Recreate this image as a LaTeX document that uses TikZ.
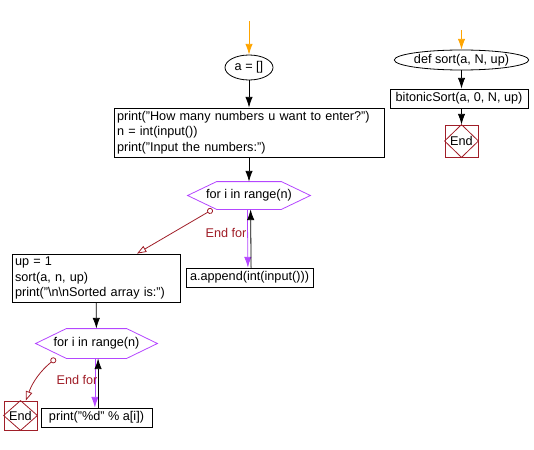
\documentclass[tikz,border=0pt]{standalone}
\usepackage{fontspec}
\setmainfont{Liberation Sans}
\usetikzlibrary{arrows.meta,shapes.geometric}

\definecolor{startc}{RGB}{255,165,0}
\definecolor{loopc}{RGB}{180,70,255}
\definecolor{endc}{RGB}{160,30,40}

% hexagon round a loop node: name, slant
\newcommand{\hexloop}[2]{%
  \draw [loopc] (#1.west) -- ([xshift=#2]#1.north west) -- ([xshift=-#2]#1.north east)
    -- (#1.east) -- ([xshift=-#2]#1.south east) -- ([xshift=#2]#1.south west) -- cycle;}
% diamond inside a stop box
\newcommand{\stopdiamond}[1]{%
  \draw [endc] (#1.north) -- (#1.east) -- (#1.south) -- (#1.west) -- cycle;}

\begin{document}
\begin{tikzpicture}[x=0.75pt,y=-0.75pt,line width=0.6pt,
    font=\fontsize{9.5pt}{11.6pt}\selectfont,
    every node/.style={inner sep=0pt},
    arr/.style={-{Latex[length=8pt,width=5.5pt]}},
    startarr/.style={arr,startc},
    proc/.style={draw,rectangle,minimum height=14.25pt},
    code/.style={draw,rectangle,align=left,inner xsep=2.25pt},
    term/.style={draw,ellipse},
    stopbox/.style={draw=endc,rectangle,minimum width=24.75pt},
    exitline/.style={endc,{Circle[open,length=4.5pt]}-{Triangle[open,length=7pt,width=5pt]}}]
  \useasboundingbox (0,0) rectangle (534,449);

  % main flow
  \coordinate (top1) at (249,21);
  \node [term,minimum width=36pt,minimum height=18.75pt] (init) at (249,67.5) {a = []};
  \node [code,minimum height=36.75pt,text width=198pt] (ask) at (249,132.5)
    {print("How many numbers u want to enter?")\\ n = int(input())\\ print("Input the numbers:")};
  \node [minimum width=91.5pt,minimum height=20.25pt] (loopA) at (249,195.5) {for i in range(n)};
  \hexloop{loopA}{21.75pt}
  \node [proc,minimum width=95.25pt] (append) at (249.5,277.5) {a.append(int(input()))};
  \node [code,minimum height=36pt,text width=121.5pt] (setup) at (96,278)
    {up = 1\\ sort(a, n, up)\\ print("\textbackslash n\textbackslash nSorted array is:")};
  \node [minimum width=90.75pt,minimum height=21.75pt] (loopB) at (96.5,343.5) {for i in range(n)};
  \hexloop{loopB}{23pt}
  \node [proc,minimum width=83.25pt] (show) at (96.5,417.5) {print("\%d" \% a[i])};
  \node [stopbox,minimum height=21.75pt] (stopA) at (20.5,415.5) {End};
  \stopdiamond{stopA}

  \draw [startarr] (top1) -- (init.north);
  \draw [arr] (init) -- (ask);
  \draw [arr] (ask) -- (loopA);
  \draw [arr,loopc] ([xshift=-1.2pt]loopA.south) -- ([xshift=-1.2pt]append.north);
  \draw [arr] ([xshift=1.2pt]append.north) -- ([xshift=1.2pt]loopA.south);
  \draw [exitline] ([xshift=18.75pt]loopA.south west) -- ([xshift=30.75pt]setup.north);
  \node [text=endc] (forA) at (226,233) {End for};
  \draw [arr] (setup) -- (loopB);
  \draw [arr,loopc] ([xshift=-1.2pt]loopB.south) -- ([xshift=-1.2pt]show.north);
  \draw [arr] ([xshift=1.2pt]show.north) -- ([xshift=1.2pt]loopB.south);
  \draw [exitline] ([xshift=15pt]loopB.south west) to[bend right=15] ([xshift=4pt]stopA.north);
  \node [text=endc] (forB) at (77,380) {End for};

  % sort function
  \coordinate (top2) at (461.5,30);
  \node [term,minimum width=84.75pt,minimum height=15pt] (def) at (461.5,60) {def sort(a, N, up)};
  \node [proc,minimum width=103.5pt] (bitonic) at (459,98.5) {bitonicSort(a, 0, N, up)};
  \node [stopbox,minimum height=24pt] (stopB) at (461.5,141) {End};
  \stopdiamond{stopB}

  \draw [startarr] (top2) -- (def.north);
  \draw [arr] (def.south -| top2) -- (bitonic.north -| top2);
  \draw [arr] (bitonic.south -| top2) -- (stopB);
\end{tikzpicture}
\end{document}
